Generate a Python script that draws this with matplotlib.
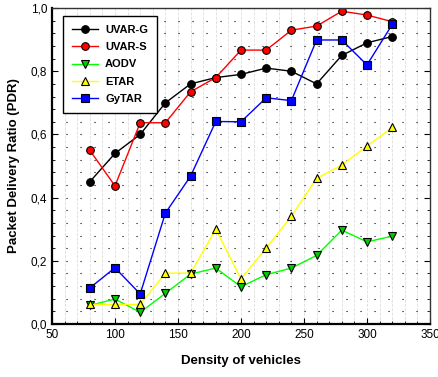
import matplotlib
matplotlib.use("Agg")
import matplotlib.pyplot as plt
from matplotlib.ticker import MultipleLocator, FuncFormatter

plt.rcParams['font.family'] = ['Liberation Sans', 'DejaVu Sans']

density = [80, 100, 120, 140, 160, 180, 200, 220, 240, 260, 280, 300, 320]
uvar_g = [0.45, 0.54, 0.60, 0.70, 0.76, 0.78, 0.79, 0.81, 0.80, 0.76, 0.85, 0.89, 0.91]
uvar_s = [0.55, 0.437, 0.637, 0.637, 0.735, 0.78, 0.867, 0.867, 0.93, 0.943, 0.99, 0.978, 0.957]
aodv = [0.059, 0.079, 0.037, 0.097, 0.158, 0.177, 0.118, 0.156, 0.177, 0.217, 0.297, 0.26, 0.278]
etar = [0.062, 0.062, 0.062, 0.161, 0.161, 0.30, 0.143, 0.24, 0.341, 0.461, 0.503, 0.563, 0.622]
gytar = [0.114, 0.178, 0.095, 0.351, 0.468, 0.641, 0.64, 0.716, 0.707, 0.899, 0.899, 0.82, 0.948]

fig = plt.figure(figsize=(4.38, 3.77), dpi=100)
ax = fig.add_axes([0.1187, 0.1406, 0.863, 0.838])

# series: (values, label, line colour, marker, face colour)
series = [
    (uvar_g, 'UVAR-G', 'black', 'o', 'black'),
    (uvar_s, 'UVAR-S', 'red', 'o', 'red'),
    (aodv, 'AODV', '#00ff00', 'v', '#00cc00'),
    (etar, 'ETAR', '#ffff00', '^', '#ffff00'),
    (gytar, 'GyTAR', 'blue', 's', 'blue'),
]
for vals, label, col, mk, fc in series:
    ax.plot(density, vals, color=col, linewidth=1, marker=mk, markersize=5.5,
            markerfacecolor=fc, markeredgecolor='black', markeredgewidth=0.8,
            label=label)

ax.set_xlim(50, 350)
ax.set_ylim(0, 1.0)
ax.xaxis.set_major_locator(MultipleLocator(50))
ax.xaxis.set_minor_locator(MultipleLocator(10))
ax.yaxis.set_major_locator(MultipleLocator(0.2))
ax.yaxis.set_minor_locator(MultipleLocator(0.04))
ax.yaxis.set_major_formatter(FuncFormatter(lambda v, p: ('%.1f' % v).replace('.', ',')))

ax.tick_params(which='both', direction='in', right=True, top=False, labelsize=8.5)
ax.tick_params(which='major', length=4)
ax.tick_params(which='minor', length=2)

# grid: faint vertical lines, dotted horizontal rows
ax.grid(True, which='both', axis='x', color='#dddddd', linestyle='--', linewidth=0.6)
ax.grid(True, which='both', axis='y', color='black', linestyle=(0, (1, 11.6)), linewidth=0.8)
ax.set_axisbelow(True)

for s in ['left', 'bottom']:
    ax.spines[s].set_linewidth(1.6)
for s in ['top', 'right']:
    ax.spines[s].set_linewidth(1.0)
    ax.spines[s].set_color('#333333')

ax.set_xlabel('Density of vehicles', fontsize=9.5, fontweight='bold', labelpad=10)
ax.set_ylabel('Packet Delivery Ratio (PDR)', fontsize=9.5, fontweight='bold', labelpad=8)

leg = ax.legend(loc='upper left', bbox_to_anchor=(0.02, 0.985), fancybox=False,
                edgecolor='black', framealpha=1, prop={'weight': 'bold', 'size': 8},
                handlelength=2.4, handletextpad=0.6, borderpad=0.8, labelspacing=0.65,
                borderaxespad=0.3)
leg.get_frame().set_linewidth(1.0)

fig.savefig('out.png', dpi=100)
